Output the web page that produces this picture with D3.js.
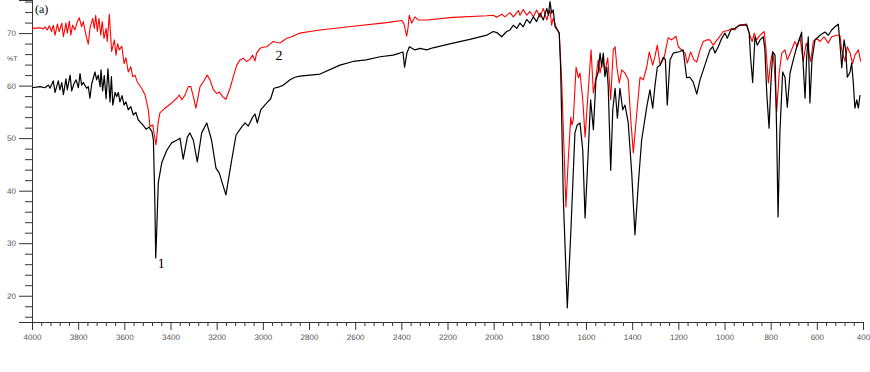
<!DOCTYPE html>
<html>
<head>
<meta charset="utf-8">
<script src="https://cdn.jsdelivr.net/npm/d3@7"></script>
<style>
  body { margin: 0; background: #fff; }
  svg text { text-rendering: geometricPrecision; }
  .tick text { font-family: Arial, "Liberation Sans", sans-serif; }
</style>
</head>
<body>
<div id="drawing"></div>
<script>
// spectrum 1 (black)
var wn1 = [4000,3965,3944,3929,3922,3908,3900,3886,3879,3871,3864,3853,3847,3835,3828,3818,3809,3799,3792,3785,
  3778,3770,3763,3756,3749,3741,3727,3720,3713,3705,3701,3694,3687,3679,3671,3662,3656,3650,3640,3633,
  3626,3619,3610,3601,3593,3583,3572,3561,3550,3540,3532,3519,3506,3493,3480,3474,3468,3464,3460,3453,
  3438,3416,3395,3373,3359,3345,3327,3316,3301,3284,3265,3243,3222,3203,3189,3160,3135,3116,3092,3077,
  3063,3044,3034,3024,3009,2983,2966,2952,2933,2911,2882,2861,2839,2752,2666,2609,2553,2492,2436,2406,
  2393,2386,2376,2365,2341,2319,2290,2263,2176,2103,2030,2002,1986,1965,1944,1929,1915,1900,1886,1872,
  1857,1843,1828,1814,1799,1785,1770,1763,1756,1749,1742,1734,1724,1716,1710,1698,1681,1666,1648,1638,
  1626,1614,1604,1590,1580,1568,1557,1547,1539,1532,1525,1518,1510,1504,1493,1484,1474,1464,1453,1441,
  1431,1417,1402,1388,1373,1359,1337,1323,1311,1301,1291,1279,1265,1256,1248,1236,1222,1193,1179,1164,
  1150,1136,1120,1106,1085,1063,1051,1041,1027,1012,998,988,973,955,933,904,893,887,878,868,
  858,846,832,825,817,807,799,791,781,774,768,760,748,738,728,716,702,687,673,666,
  659,651,644,637,630,621,608,586,565,550,536,521,507,500,492,482,475,468,456,449,
  442,435,427,420,413];
var t1 = [59.6,59.8,59.6,60.1,59.5,60.9,58.7,60.9,59.2,60.6,58.3,61.3,59.2,62.0,59.0,60.4,61.1,59.6,62.3,60.1,
  60.6,60.0,59.5,59.8,57.6,60.4,62.6,61.1,62.0,59.8,63.0,59.0,61.9,57.5,63.2,56.9,61.7,56.3,58.7,57.9,
  58.7,56.9,58.1,56.3,56.9,55.4,56.0,54.4,54.9,53.5,53.1,52.5,51.7,52.1,51.2,49.6,38.2,27.2,31.9,41.5,
  45.3,47.7,49.1,49.6,50.0,46.0,50.2,51.0,49.6,45.5,51.0,52.9,49.6,44.3,43.4,39.2,45.8,50.6,52.1,52.9,
  52.3,54.0,54.6,52.9,55.4,56.7,57.5,59.5,59.7,60.1,61.1,61.6,61.8,62.2,63.9,64.6,64.9,65.5,65.8,66.2,
  66.4,63.5,66.2,67.4,66.8,67.1,66.8,67.2,68.1,68.8,69.6,70.3,70.1,69.3,70.3,70.6,71.5,70.9,71.9,71.2,
  72.6,71.9,73.1,72.2,73.8,72.5,74.7,73.4,76.0,73.8,74.4,71.2,70.6,70.0,63.6,38.2,17.7,31.9,51.0,52.5,
  52.9,47.7,34.8,47.7,57.3,51.6,61.1,62.6,66.2,63.5,66.2,61.7,63.5,60.1,43.9,55.4,59.5,53.8,59.5,55.4,
  56.3,52.9,43.4,31.6,41.5,49.6,55.9,59.2,55.7,60.1,63.5,63.9,65.4,64.9,56.3,64.9,66.2,66.5,66.8,61.5,
  61.6,60.7,58.4,61.1,63.9,66.8,67.4,66.2,67.4,69.0,70.0,69.0,70.6,70.9,71.5,71.5,70.0,65.3,60.6,69.3,
  67.7,68.7,69.3,66.8,58.6,51.9,60.5,66.4,65.8,51.0,35.0,51.0,62.6,61.6,55.9,62.4,64.9,67.4,69.1,70.2,
  63.9,57.6,65.4,69.3,56.7,64.9,68.7,69.6,70.2,69.6,70.6,71.2,71.7,68.1,63.4,68.7,66.8,61.6,62.6,64.3,
  60.5,55.7,57.3,55.7,58.2];

// spectrum 2 (red)
var wn2 = [4000,3965,3951,3944,3934,3925,3915,3908,3900,3890,3882,3871,3864,3853,3847,3838,3832,3824,3814,3804,
  3795,3785,3778,3766,3756,3749,3737,3730,3724,3717,3710,3702,3696,3688,3679,3674,3665,3655,3643,3636,
  3629,3622,3611,3601,3593,3583,3572,3564,3554,3544,3525,3510,3496,3489,3477,3463,3453,3446,3424,3395,
  3373,3362,3351,3337,3323,3312,3301,3290,3272,3258,3241,3229,3215,3200,3189,3174,3160,3142,3128,3113,
  3099,3085,3070,3056,3044,3034,3027,3012,2998,2983,2969,2955,2940,2926,2911,2897,2875,2861,2839,2796,
  2752,2609,2463,2398,2388,2377,2371,2366,2355,2341,2327,2290,2176,2030,2002,1987,1965,1951,1929,1915,
  1893,1886,1872,1857,1843,1828,1814,1799,1785,1770,1756,1749,1742,1727,1716,1705,1695,1687,1677,1666,
  1661,1655,1643,1633,1626,1614,1604,1590,1578,1568,1557,1547,1539,1528,1518,1506,1493,1482,1474,1466,
  1456,1445,1431,1417,1406,1395,1380,1366,1352,1337,1326,1311,1301,1291,1279,1262,1244,1229,1210,1200,
  1186,1171,1161,1147,1132,1120,1106,1092,1077,1063,1049,1027,1005,984,969,955,940,904,890,880,
  871,861,846,828,820,810,799,791,784,774,763,752,738,728,713,695,685,673,666,659,
  646,637,627,615,601,586,569,550,536,514,500,492,478,468,456,445,435,420,410];
var t2 = [70.9,71.0,70.8,71.2,70.6,71.4,70.3,71.5,69.6,71.7,70.3,71.9,69.3,71.9,70.0,72.3,69.6,71.5,70.6,72.1,
  72.9,71.2,72.2,69.6,67.9,70.9,72.8,70.9,73.4,70.3,72.8,69.6,72.2,69.0,70.9,68.4,73.6,66.5,68.7,65.8,
  68.0,66.8,67.5,64.2,65.3,62.6,63.6,61.7,62.0,60.7,59.5,58.2,55.4,52.2,52.5,48.7,53.1,54.8,55.7,56.7,
  57.6,58.2,57.3,58.2,59.8,59.8,57.9,55.7,59.8,60.7,62.0,61.1,59.3,58.5,58.8,57.9,57.4,59.5,61.7,63.9,
  64.9,65.2,64.6,65.0,65.8,64.7,66.2,67.1,67.3,67.4,67.9,68.4,68.2,68.1,68.6,69.0,69.3,69.6,70.0,70.3,
  70.6,71.3,72.0,72.4,71.7,69.4,71.0,73.4,71.9,73.1,72.5,72.5,73.0,73.3,73.4,73.0,73.6,73.1,73.9,73.1,
  74.3,73.4,74.5,73.4,74.1,73.1,74.4,73.0,74.7,72.5,74.4,71.5,72.8,70.9,70.0,60.5,47.7,36.9,45.8,54.0,
  52.5,53.5,63.5,61.5,62.4,57.3,50.2,59.2,66.8,58.6,61.6,64.9,62.4,65.3,62.6,65.3,57.3,66.8,67.4,63.5,
  60.5,63.0,62.4,61.1,53.5,47.2,54.8,61.6,61.1,63.5,66.4,63.9,65.6,67.7,63.9,65.3,69.1,68.7,69.4,67.4,
  66.8,66.2,64.3,66.4,64.9,64.5,66.8,68.4,68.7,68.7,67.7,69.0,70.3,70.5,70.9,70.6,71.5,71.7,69.6,68.4,
  70.0,68.7,69.6,70.3,66.8,60.5,64.9,66.5,63.5,55.0,62.4,66.2,66.8,64.9,66.4,68.4,67.4,69.3,66.8,64.6,
  68.1,66.8,64.6,68.4,69.0,68.4,69.3,68.1,69.3,69.6,69.6,66.8,64.6,67.4,66.2,64.2,65.8,66.8,64.6];

// axis tick labels
var xTickLabels = [4000,3800,3600,3400,3200,3000,2800,2600,2400,2200,2000,1800,1600,1400,1200,1000,800,600,400];
var yTickLabels = [20,30,40,50,60,70];

var width = 870;
var height = 372;
var plot = {left: 32, right: 863, top: 0, bottom: 322};

var svg = d3.select("#drawing").append("svg")
  .attr("width", width)
  .attr("height", height)
  .style("background", "#fff");

var xScale = d3.scaleLinear().domain([4000, 400]).range([plot.left, plot.right]);
var yScale = d3.scaleLinear().domain([15, 76.3]).range([plot.bottom, plot.top]);

var axisColor = "#333";
var labelColor = "#555";

// x axis: minor ticks every 40, labels every 200
var xMinor = d3.range(4000, 399, -40).filter(d => xTickLabels.indexOf(d) < 0);
var xAxisG = svg.append("g").attr("transform", `translate(0, ${plot.bottom})`);
xAxisG.call(d3.axisBottom(xScale).tickValues(xMinor).tickSize(4).tickFormat(""));
xAxisG.append("g").call(d3.axisBottom(xScale).tickValues(xTickLabels).tickSize(8).tickPadding(4).tickFormat(d3.format("d")));
xAxisG.selectAll("path, line").attr("stroke", axisColor);
xAxisG.selectAll("text").attr("fill", labelColor).style("font-size", "8px");

// y axis: minor ticks every 2, labels every 10
var yMinor = d3.range(16, 77, 2).filter(d => yTickLabels.indexOf(d) < 0);
var yAxisG = svg.append("g").attr("transform", `translate(${plot.left}, 0)`);
yAxisG.call(d3.axisLeft(yScale).tickValues(yMinor).tickSize(7).tickFormat(""));
yAxisG.append("g").call(d3.axisLeft(yScale).tickValues(yTickLabels).tickSize(13).tickPadding(3).tickFormat(d3.format("d")));
yAxisG.selectAll("path, line").attr("stroke", axisColor);
yAxisG.selectAll("text").attr("fill", labelColor).style("font-size", "8px");

svg.append("text")
  .attr("x", 7).attr("y", 61)
  .attr("fill", labelColor)
  .style("font-family", "Arial, sans-serif")
  .style("font-size", "7px")
  .text("%T");

// spectra
var lineGenerator = d3.line()
  .x(d => xScale(d[0]))
  .y(d => yScale(d[1]));

var series = [
  {wn: wn2, t: t2, color: "#ff0000", w: 1.1},
  {wn: wn1, t: t1, color: "#000000", w: 1.2}
];

series.forEach(function(s) {
  var pts = s.wn.map((w, i) => [w, s.t[i]]);
  svg.append("path")
    .attr("d", lineGenerator(pts))
    .style("fill", "none")
    .style("stroke", s.color)
    .style("stroke-width", s.w)
    .style("stroke-linejoin", "round");
});

// annotations
var serif = "'Liberation Serif', 'Times New Roman', serif";
svg.append("text").attr("x", 35).attr("y", 13).attr("fill", "#000")
  .style("font-family", serif).style("font-size", "12px").text("(a)");
svg.append("text").attr("x", xScale(3455)).attr("y", 268).attr("fill", "#000")
  .style("font-family", serif).style("font-size", "14px").text("1");
svg.append("text").attr("x", xScale(2945)).attr("y", 60).attr("fill", "#000")
  .style("font-family", serif).style("font-size", "14px").text("2");
</script>
</body>
</html>
